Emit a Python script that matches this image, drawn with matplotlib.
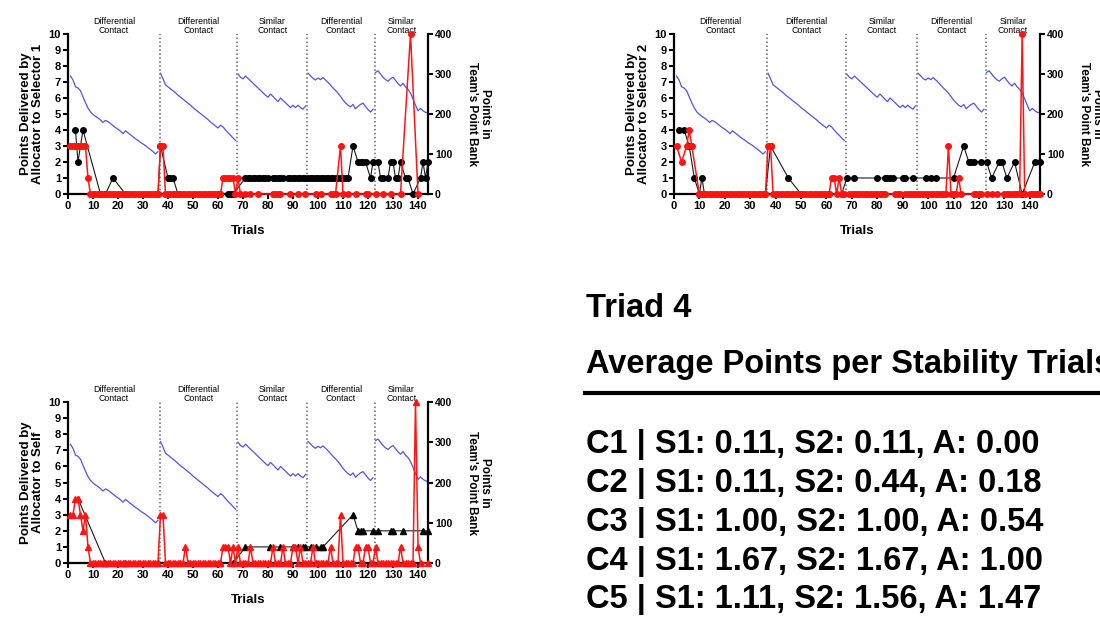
import matplotlib
matplotlib.use("Agg")
import matplotlib.pyplot as plt
from matplotlib.lines import Line2D

plt.rcParams['font.family'] = ['Liberation Sans', 'DejaVu Sans']

N = None
trials = list(range(1, 145))

# team's point bank (right axis), one value per trial
bank = [
    295, 285, 268, 265, 258, 243, 228, 215, 205, 199, 194, 190,
    185, 179, 184, 181, 176, 171, 166, 162, 157, 151, 158, 153,
    148, 143, 138, 134, 129, 125, 121, 116, 111, 106, 100, 106,
    302, 288, 273, 268, 263, 258, 253, 247, 242, 237, 232, 227,
    222, 216, 211, 206, 201, 196, 191, 186, 180, 175, 170, 165,
    172, 168, 160, 153, 147, 140, 134, 300, 292, 288, 295, 289,
    283, 277, 271, 265, 259, 253, 247, 242, 250, 244, 237, 231,
    240, 234, 228, 222, 216, 222, 216, 222, 216, 212, 220, 302,
    296, 289, 285, 290, 286, 291, 285, 279, 272, 265, 259, 252,
    244, 235, 228, 222, 218, 224, 213, 219, 224, 227, 219, 211,
    205, 212, 304, 308, 300, 292, 286, 282, 288, 292, 284, 276,
    270, 277, 268, 262, 252, 238, 222, 208, 214, 208, 204, 203,
]
bank_segments = [(1, 36), (37, 67), (68, 95), (96, 122), (123, 144)]

phase_bounds = [36.7, 67.7, 95.7, 122.7]
phase_names = ["Differential\nContact", "Differential\nContact", "Similar\nContact",
               "Differential\nContact", "Similar\nContact"]

# allocator -> selector 1
s1_red = [
    3, 3, 3, 3, 3, 3, 3, 1, 0, 0, 0, 0,
    0, 0, 0, 0, 0, 0, 0, 0, 0, 0, 0, 0,
    0, 0, 0, 0, 0, 0, 0, 0, 0, 0, 0, 0,
    3, 3, 0, 0, 0, 0, 0, 0, 0, 0, 0, 0,
    0, 0, 0, 0, 0, 0, 0, 0, 0, 0, 0, 0,
    0, 1, 1, 1, 1, 1, 0, 1, 0, N, 0, N,
    0, N, N, 0, N, N, N, N, N, 0, 0, 0,
    0, N, N, N, 0, N, N, 0, N, N, 0, N,
    N, N, 0, N, 0, N, N, N, 0, 0, 0, N,
    3, 0, N, 0, N, N, 0, N, N, N, 0, 0,
    N, N, 0, N, N, 0, N, N, 0, N, N, N,
    0, N, N, N, 10, N, N, 0, N, N, N, N,
]
s1_black = [
    N, N, 4, 2, N, 4, N, N, N, N, N, N,
    0, N, 0, N, N, 1, N, N, N, N, 0, N,
    N, N, N, N, N, N, N, N, N, N, N, 0,
    3, N, N, 1, 1, 1, N, 0, N, N, N, N,
    N, N, N, N, N, N, N, N, N, N, N, 0,
    0, N, N, 0, 0, 0, N, N, N, N, 1, 1,
    1, 1, 1, 1, 1, 1, 1, 1, N, 1, 1, 1,
    1, 1, N, 1, 1, 1, 1, 1, 1, 1, 1, 1,
    1, 1, 1, 1, 1, 1, 1, 1, 1, 1, 1, 1,
    1, 1, 1, 1, N, 3, N, 2, 2, 2, 2, N,
    1, 2, N, 2, 1, 1, N, 1, 2, 2, 1, 1,
    2, N, 1, 1, N, 0, N, N, 1, 2, 1, 2,
]

# allocator -> selector 2
s2_red = [
    3, N, 2, N, 3, 4, 3, N, N, 0, 0, 0,
    0, 0, 0, 0, 0, 0, 0, 0, 0, 0, 0, 0,
    0, 0, 0, 0, 0, 0, 0, 0, 0, 0, 0, 0,
    3, 3, 0, 0, 0, 0, 0, 0, 0, 0, 0, 0,
    0, 0, 0, 0, 0, 0, 0, 0, 0, 0, 0, 0,
    0, 1, 1, 0, 1, 0, 0, N, 0, 0, 0, 0,
    0, 0, 0, 0, 0, 0, 0, 0, 0, 0, 0, N,
    N, N, 0, 0, 0, N, 0, 0, 0, 0, 0, 0,
    0, 0, 0, 0, 0, 0, 0, 0, 0, 0, 0, 3,
    0, 0, 0, 1, 0, N, N, N, N, 0, 0, 0,
    0, N, 0, N, 0, N, 0, N, N, 0, 0, 0,
    0, 0, 0, 0, 10, 0, N, 0, 0, 0, 0, 0,
]
s2_black = [
    N, 4, N, 4, N, 3, N, 1, N, 0, 1, 0,
    N, N, N, N, N, N, N, N, N, N, N, N,
    N, N, N, N, N, N, N, N, N, N, N, 0,
    N, 3, N, N, N, N, N, N, 1, N, N, N,
    N, 0, N, N, N, N, N, N, N, N, N, N,
    0, N, N, N, N, 0, N, 1, N, N, 1, N,
    N, N, N, N, N, N, N, 1, N, N, 1, 1,
    1, 1, N, N, N, 1, 1, N, N, 1, N, N,
    N, N, 1, N, 1, N, 1, N, N, N, N, N,
    N, 1, N, N, N, 3, N, 2, 2, 2, N, N,
    2, N, 2, N, 1, N, N, 2, 2, N, 1, N,
    N, 2, N, N, 0, N, N, N, N, 2, N, 2,
]

# allocator -> self
self_red = [
    3, 3, 4, 4, 3, 2, 3, 1, 0, 0, 0, 0,
    0, 0, 0, 0, 0, 0, 0, 0, 0, 0, 0, 0,
    0, 0, 0, 0, 0, 0, 0, 0, 0, 0, 0, 0,
    3, 3, 0, 0, 0, 0, 0, 0, 0, 0, 1, 0,
    0, 0, 0, 0, 0, 0, 0, 0, 0, 0, 0, 0,
    0, 1, 1, 1, 0, 1, 0, 1, 0, 0, 0, 0,
    1, 0, 0, 0, 0, 0, 0, 0, 0, 1, 0, 0,
    0, 1, 0, 0, 0, 1, 1, 0, 1, 0, 0, 0,
    0, 1, 0, 0, 0, 0, 0, 0, 1, 0, 0, 0,
    3, 0, 0, 0, 0, 0, 1, 1, 0, 0, 1, 1,
    0, 0, 1, 0, 0, 0, 0, 0, 0, 0, 0, 0,
    1, 0, 0, 0, 0, 0, 10, 1, 0, N, N, 0,
]
self_black = [
    N, N, N, 4, N, N, N, N, N, N, N, N,
    N, N, 0, N, N, N, N, N, N, N, 0, N,
    N, N, N, N, N, N, N, N, N, N, N, 0,
    N, N, N, N, N, N, N, N, N, N, N, N,
    N, N, N, N, N, N, N, N, N, N, N, N,
    0, N, N, N, N, 0, N, N, N, N, 1, N,
    N, N, N, N, N, N, N, N, 1, N, N, N,
    1, N, N, N, N, 1, N, 1, N, 1, 1, N,
    1, N, 1, N, 1, 1, N, N, N, N, N, N,
    N, N, N, N, N, 3, N, 2, 2, 2, N, N,
    N, 2, N, 2, N, N, N, N, 2, 2, N, N,
    N, 2, N, N, N, N, N, N, N, 2, N, 2,
]

# stability summary
triad = "Triad 4"
summary_title = "Average Points per Stability Trials"
summary_lines = [
    "C1 | S1: 0.11, S2: 0.11, A: 0.00",
    "C2 | S1: 0.11, S2: 0.44, A: 0.18",
    "C3 | S1: 1.00, S2: 1.00, A: 0.54",
    "C4 | S1: 1.67, S2: 1.67, A: 1.00",
    "C5 | S1: 1.11, S2: 1.56, A: 1.47",
]

RED = "#ff1414"
BLUE = "#5353e6"


def points(vals):
    xs = [t for t, v in zip(trials, vals) if v is not None]
    ys = [v for v in vals if v is not None]
    return xs, ys


def panel(rect, ylabel, red, black, marker, ms):
    ax = fig.add_axes(rect)
    ax2 = ax.twinx()
    ax.set_zorder(ax2.get_zorder() + 1)
    ax.patch.set_visible(False)

    for a, b in bank_segments:
        ax2.plot(trials[a - 1:b], bank[a - 1:b], color=BLUE, lw=0.9)

    for xb in phase_bounds:
        ax.axvline(xb, color="#666666", ls=(0, (1, 1.6)), lw=1.1, zorder=1)
    edges = [0] + phase_bounds + [144]
    for i, name in enumerate(phase_names):
        ax.annotate(name, ((edges[i] + edges[i + 1]) / 2, 10), xytext=(0, -0.5),
                    textcoords="offset points", ha="center", va="bottom",
                    fontsize=6.3, linespacing=1.0)

    bx, by = points(black)
    ax.plot(bx, by, color="#1a1a1a", lw=0.8, marker=marker, ms=ms,
            mfc="black", mec="black", clip_on=False, zorder=3)
    rx, ry = points(red)
    ax.plot(rx, ry, color=RED, lw=1.1, marker=marker, ms=ms,
            mfc=RED, mec=RED, clip_on=False, zorder=4)

    ax.set_xlim(0, 144)
    ax.set_ylim(0, 10)
    ax2.set_ylim(0, 400)
    ax.set_xticks(range(0, 141, 10))
    ax.set_yticks(range(0, 11))
    ax2.set_yticks(range(0, 401, 100))

    for s in ("top", "right"):
        ax.spines[s].set_visible(False)
    for s in ("top", "left", "bottom"):
        ax2.spines[s].set_visible(False)
    for s in ("left", "bottom"):
        ax.spines[s].set_linewidth(1.6)
    ax2.spines["right"].set_linewidth(1.6)

    ax.tick_params(width=1.5, length=3.5, labelsize=8, pad=1.5)
    ax2.tick_params(width=1.5, length=3.5, labelsize=7.5, pad=1.5)
    for lab in ax.get_xticklabels() + ax.get_yticklabels() + ax2.get_yticklabels():
        lab.set_fontweight("bold")

    ax.set_xlabel("Trials", fontsize=9.5, fontweight="bold", labelpad=10)
    ax.set_ylabel(ylabel, fontsize=9.5, fontweight="bold", labelpad=3, linespacing=1.1)
    ax2.set_ylabel("Points in\nTeam's Point Bank", rotation=270, va="bottom",
                   fontsize=8.5, fontweight="bold", labelpad=10, linespacing=1.1)
    return ax


fig = plt.figure(figsize=(11, 6.43), dpi=100)

panel([0.0618, 0.6983, 0.3273, 0.2488], "Points Delivered by\nAllocator to Selector 1",
      s1_red, s1_black, "o", 4)
panel([0.6127, 0.6983, 0.3327, 0.2488], "Points Delivered by\nAllocator to Selector 2",
      s2_red, s2_black, "o", 4)
panel([0.0618, 0.1244, 0.3273, 0.2504], "Points Delivered by\nAllocator to Self",
      self_red, self_black, "^", 4.5)

fig.text(0.5327, 0.5075, triad, fontsize=23.5, fontweight="bold", va="baseline")
fig.text(0.5327, 0.4195, summary_title, fontsize=23.5, fontweight="bold", va="baseline")
fig.add_artist(Line2D([0.532, 1.0], [0.3883, 0.3883], transform=fig.transFigure,
                      color="black", lw=3))
for i, line in enumerate(summary_lines):
    fig.text(0.5327, 0.295 - i * 0.0603, line, fontsize=23.5, fontweight="bold",
             va="baseline")

fig.savefig("out.png", dpi=100)
